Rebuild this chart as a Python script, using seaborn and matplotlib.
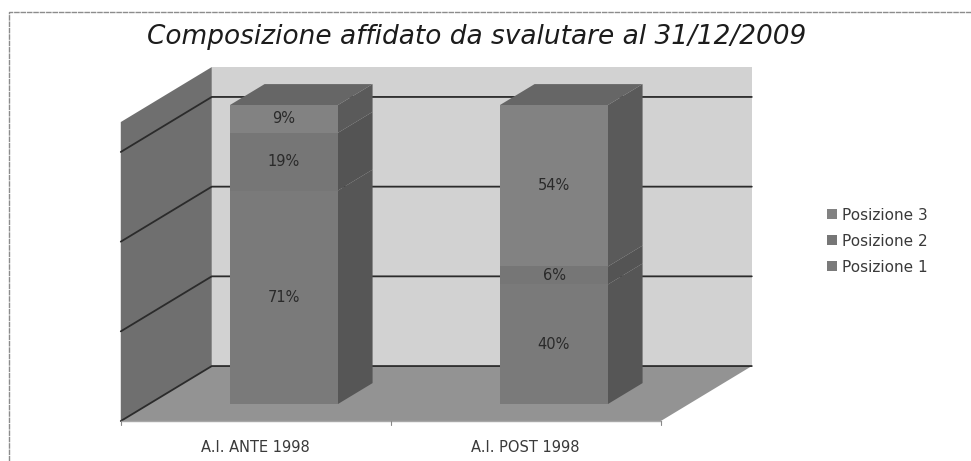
import matplotlib
matplotlib.use('Agg')
import matplotlib.pyplot as plt
import pandas as pd
import seaborn as sns

# dati
categorie = ['A.I. ANTE 1998', 'A.I. POST 1998']
posizione_1 = [71.4, 40.0]
posizione_2 = [19.3, 6.0]
posizione_3 = [9.3, 54.0]
serie = ['Posizione 1', 'Posizione 2', 'Posizione 3']
griglia = [0, 30, 60, 90]
titolo = 'Composizione affidato da svalutare al 31/12/2009'

# colori
col_front = ['#7a7a7a', '#767676', '#828282']
col_side = ['#565656', '#545454', '#5a5a5a']
col_top = '#666666'
col_wall = '#6f6f6f'
col_back = '#d2d2d2'
col_floor = '#939393'

# la scala: 270 px per categoria, 2.99 px per punto percentuale
W, H = 971, 461
X0_PX, Y0_PX = 284, 404
SCALE_X, SCALE_Y = 270, 2.99
DX, DY = 91 / SCALE_X, 55 / SCALE_Y  # spostamento della profondita
D_BAR0, D_BAR1 = 0.31, 0.69
WIDTH = 0.4


def proj(x, v, d):
    return x + (d - D_BAR0) * DX, v + (d - D_BAR0) * DY


sns.set_theme(style='white')
plt.rcParams['font.family'] = ['DejaVu Sans']

fig = plt.figure(figsize=(W / 100, H / 100), dpi=100)
ax = fig.add_axes([0, 0, 1, 1])

df = pd.DataFrame({'categoria': categorie, 'Posizione 1': posizione_1,
                   'Posizione 2': posizione_2, 'Posizione 3': posizione_3})

# barre frontali
bottom = [0.0, 0.0]
basi = []
for s, c in zip(serie, col_front):
    sns.barplot(data=df, x='categoria', y=s, order=categorie, bottom=bottom, width=WIDTH,
                color=c, saturation=1, linewidth=0, ax=ax, zorder=5)
    basi.append(list(bottom))
    bottom = [b + v for b, v in zip(bottom, df[s])]

ax.set_xlim(-X0_PX / SCALE_X, (W - X0_PX) / SCALE_X)
ax.set_ylim((Y0_PX - H) / SCALE_Y, Y0_PX / SCALE_Y)
ax.axis('off')

# pareti e pavimento
xa, xb = -0.5, 1.5
vmax = 100
ax.fill(*zip(proj(xa, 0, 1), proj(xb, 0, 1), proj(xb, vmax, 1), proj(xa, vmax, 1)),
        color=col_back, lw=0, zorder=1)
ax.fill(*zip(proj(xa, 0, 0), proj(xa, 0, 1), proj(xa, vmax, 1), proj(xa, vmax, 0)),
        color=col_wall, lw=0, zorder=1)
ax.fill(*zip(proj(xa, 0, 0), proj(xb, 0, 0), proj(xb, 0, 1), proj(xa, 0, 1)),
        color=col_floor, lw=0, zorder=1)

# griglia
for g in griglia:
    ax.plot(*zip(proj(xa, g, 0), proj(xa, g, 1), proj(xb, g, 1)),
            color='#2b2b2b', lw=1.3, zorder=2, solid_joinstyle='miter')

# asse in basso con le tacche
ax.plot(*zip(proj(xa, 0, 0), proj(xb, 0, 0)), color='#a8a8a8', lw=1, zorder=2)
for t in [-0.5, 0.5, 1.5]:
    px, pv = proj(t, 0, 0)
    ax.plot([px, px], [pv, pv - 1.2], color='#888888', lw=0.8, zorder=2)

# facce laterali e superiori delle barre
for i in range(len(categorie)):
    xr = i + WIDTH / 2
    xl = i - WIDTH / 2
    for j, s in enumerate(serie):
        lo = basi[j][i]
        hi = lo + df[s][i]
        ax.fill(*zip(proj(xr, lo, D_BAR0), proj(xr, lo, D_BAR1),
                     proj(xr, hi, D_BAR1), proj(xr, hi, D_BAR0)),
                color=col_side[j], lw=0, zorder=4)
        ax.text(i, lo + df[s][i] / 2, f'{df[s][i]:.0f}%', ha='center', va='center',
                fontsize=10.5, color='#2a2a2a', zorder=6)
    top = bottom[i]
    ax.fill(*zip(proj(xl, top, D_BAR0), proj(xr, top, D_BAR0),
                 proj(xr, top, D_BAR1), proj(xl, top, D_BAR1)),
            color=col_top, lw=0, zorder=4)
    ax.text(i - 0.105, (Y0_PX - 447) / SCALE_Y, categorie[i], ha='center', va='center',
            fontsize=10.5, color='#3a3a3a')

# titolo
fig.text(477 / W, 1 - 37 / H, titolo, ha='center', va='center', fontsize=19,
         style='italic', color='#1c1c1c')

# legenda
ax.legend(ax.containers[::-1], serie[::-1], loc='center left',
          bbox_to_anchor=(827 / W, 1 - 241 / H), bbox_transform=fig.transFigure,
          frameon=False, fontsize=11, labelcolor='#3a3a3a', handlelength=0.65, handleheight=0.65,
          handletextpad=0.35, labelspacing=0.72, borderpad=0, borderaxespad=0)

# cornice
fig.add_artist(plt.Line2D([9 / W, 9 / W, 1], [0, 1 - 12 / H, 1 - 12 / H],
                          color='#8c8c8c', lw=1, ls=(0, (4, 0.6))))

fig.savefig('out.png', dpi=100)
